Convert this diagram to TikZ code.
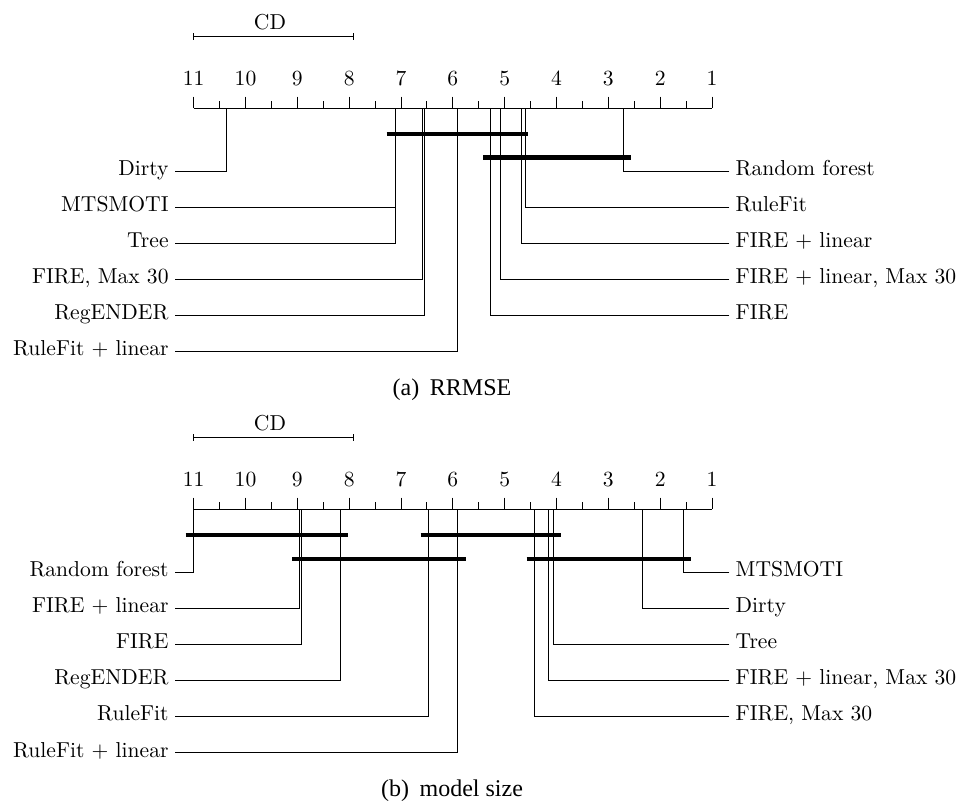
\documentclass[tikz,border=0pt]{standalone}
\usepackage{fontspec}
\newfontfamily\capfont{Liberation Serif}
\newcommand\mycdaxis[1]{%
  \coordinate (#1axL) at (193.7,108.3);
  \coordinate (#1axR) at (712,108.3);
  \draw[axisline] (#1axL) -- (#1axR);
  \foreach \i in {0,...,10}{%
    \pgfmathtruncatemacro\lbl{11-\i}%
    \draw[axisline] (193.7+\i*51.83,96.7) -- (193.7+\i*51.83,108.3);
    \node[ticklab] (#1t\i) at (193.7+\i*51.83,85.7) {\lbl};
  }
  \foreach \i in {0,...,9}{%
    \draw[axisline] (193.7+\i*51.83+25.915,101) -- (193.7+\i*51.83+25.915,108.3);
  }
  \coordinate (#1cdL) at (193.7,36.7);
  \coordinate (#1cdR) at (353.3,36.7);
  \draw[axisline] (#1cdL) -- (#1cdR);
  \draw[axisline] ([yshift=1.7pt]#1cdL) -- ([yshift=-1.7pt]#1cdL);
  \draw[axisline] ([yshift=1.7pt]#1cdR) -- ([yshift=-1.7pt]#1cdR);
  \node[ticklab] (#1cd) at (270,29.3) {CD};
}
\begin{document}
\begin{tikzpicture}[x=0.5pt,y=-0.5pt,
  lab/.style={font=\fontsize{10.8}{13}\selectfont, inner xsep=3pt, inner ysep=0pt},
  llab/.style={lab, anchor=mid east},
  rlab/.style={lab, anchor=mid west},
  conn/.style={line width=0.5pt},
  grp/.style={line width=2.3pt},
  axisline/.style={line width=0.5pt},
  ticklab/.style={font=\fontsize{10.8}{13}\selectfont, anchor=base, inner sep=0pt},
  captext/.style={font=\capfont\fontsize{12}{14}\selectfont, anchor=base, inner sep=0pt}]
\useasboundingbox (0,0) rectangle (959,800);

% ---------------- panel (a) ----------------
\mycdaxis{a}
% left labels
\node[llab] (aDirty) at (175,171) {Dirty};
\node[llab] (aMTS) at (175,207.2) {MTSMOTI};
\node[llab] (aTree) at (175,243.3) {Tree};
\node[llab] (aFM) at (175,279.4) {FIRE, Max 30};
\node[llab] (aReg) at (175,315.5) {RegENDER};
\node[llab] (aRFL) at (175,351.6) {RuleFit + linear};
% right labels
\node[rlab] (aRF) at (729.3,171) {Random forest};
\node[rlab] (aRuleFit) at (729.3,207.2) {RuleFit};
\node[rlab] (aFL) at (729.3,243.3) {FIRE + linear};
\node[rlab] (aFLM) at (729.3,279.4) {FIRE + linear, Max 30};
\node[rlab] (aF) at (729.3,315.5) {FIRE};
% axis points
\coordinate (paDirty) at (226,108.3);
\coordinate (paMTS) at (395,108.3);
\coordinate (paTree) at (395,108.3);
\coordinate (paFM) at (422.8,108.3);
\coordinate (paReg) at (424.6,108.3);
\coordinate (paRFL) at (457.3,108.3);
\coordinate (paRF) at (623.8,108.3);
\coordinate (paRuleFit) at (525.8,108.3);
\coordinate (paFL) at (521,108.3);
\coordinate (paFLM) at (500.5,108.3);
\coordinate (paF) at (490.7,108.3);
\foreach \n in {Dirty,MTS,Tree,FM,Reg,RFL}{\draw[conn] (a\n.mid east) -| (pa\n);}
\foreach \n in {RF,RuleFit,FL,FLM,F}{\draw[conn] (a\n.mid west) -| (pa\n);}
% groups
\coordinate (ag1s) at (386.7,134); \coordinate (ag1e) at (528.3,134);
\coordinate (ag2s) at (483.3,157.3); \coordinate (ag2e) at (631,157.3);
\draw[grp] (ag1s) -- (ag1e);
\draw[grp] (ag2s) -- (ag2e);
\node[captext] (capa) at (452,395) {(a)\hspace{5.3pt}RRMSE};

% ---------------- panel (b) ----------------
\begin{scope}[shift={(0,401)}]
\mycdaxis{b}
\end{scope}
\node[llab] (bRF) at (175,572) {Random forest};
\node[llab] (bFL) at (175,608.2) {FIRE + linear};
\node[llab] (bF) at (175,644.3) {FIRE};
\node[llab] (bReg) at (175,680.5) {RegENDER};
\node[llab] (bRuleFit) at (175,716.6) {RuleFit};
\node[llab] (bRFL) at (175,752.7) {RuleFit + linear};
\node[rlab] (bMTS) at (729.3,572) {MTSMOTI};
\node[rlab] (bDirty) at (729.3,608.2) {Dirty};
\node[rlab] (bTree) at (729.3,644.3) {Tree};
\node[rlab] (bFLM) at (729.3,680.5) {FIRE + linear, Max 30};
\node[rlab] (bFM) at (729.3,716.6) {FIRE, Max 30};
\coordinate (pbRF) at (193.2,509.3);
\coordinate (pbFL) at (299.3,509.3);
\coordinate (pbF) at (301.8,509.3);
\coordinate (pbReg) at (340.7,509.3);
\coordinate (pbRuleFit) at (428.3,509.3);
\coordinate (pbRFL) at (457.7,509.3);
\coordinate (pbMTS) at (683,509.3);
\coordinate (pbDirty) at (642,509.3);
\coordinate (pbTree) at (553,509.3);
\coordinate (pbFLM) at (548,509.3);
\coordinate (pbFM) at (534,509.3);
\foreach \n in {RF,FL,F,Reg,RuleFit,RFL}{\draw[conn] (b\n.mid east) -| (pb\n);}
\foreach \n in {MTS,Dirty,Tree,FLM,FM}{\draw[conn] (b\n.mid west) -| (pb\n);}
\coordinate (bg1s) at (185.7,535); \coordinate (bg1e) at (348.3,535);
\coordinate (bg2s) at (420.7,535); \coordinate (bg2e) at (560.7,535);
\coordinate (bg3s) at (292.3,559); \coordinate (bg3e) at (466,559);
\coordinate (bg4s) at (526.7,559); \coordinate (bg4e) at (690.7,559);
\draw[grp] (bg1s) -- (bg1e);
\draw[grp] (bg2s) -- (bg2e);
\draw[grp] (bg3s) -- (bg3e);
\draw[grp] (bg4s) -- (bg4e);
\node[captext] (capb) at (452,796) {(b)\hspace{5.3pt}model size};
\end{tikzpicture}
\end{document}
